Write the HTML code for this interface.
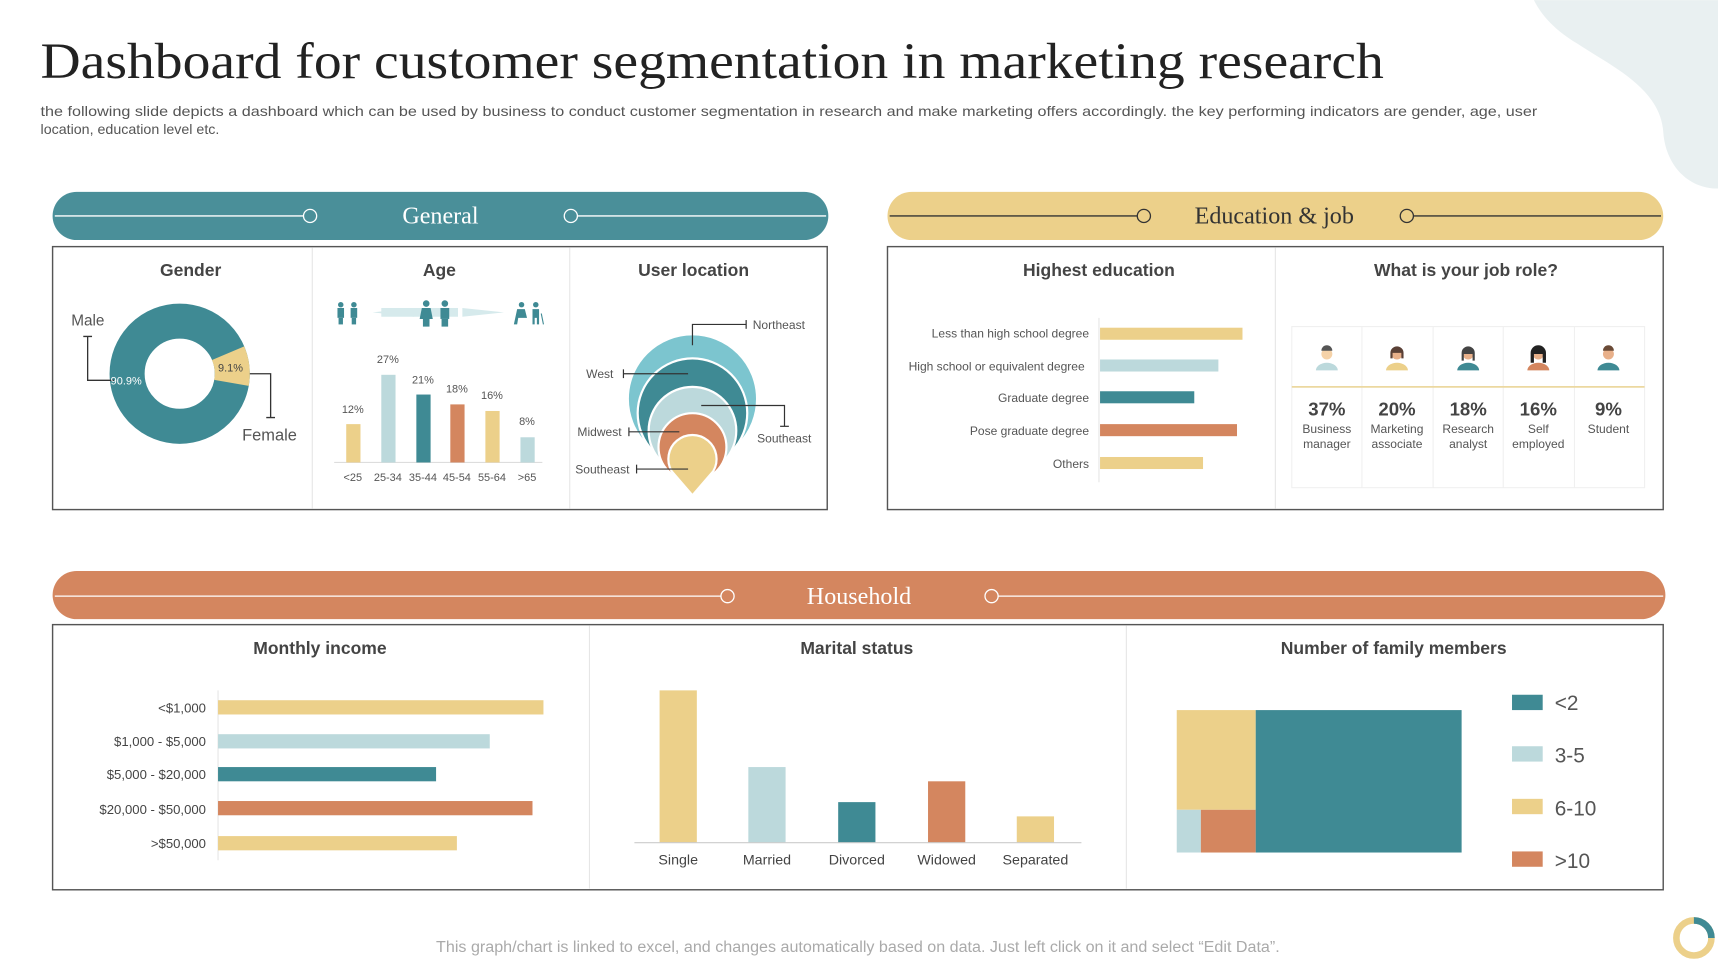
<!DOCTYPE html>
<html><head><meta charset="utf-8"><style>
html,body{margin:0;padding:0;background:#fff;}
svg{display:block;}
text{font-family:"Liberation Sans",sans-serif;}
.s{font-family:"Liberation Serif",serif;}
</style></head><body>
<svg width="1718" height="960" viewBox="0 0 1568 876" xmlns="http://www.w3.org/2000/svg">
<rect width="1568" height="876" fill="#fff"/>
<path d="M1400 0 H1568 V172 C1540 172 1520 150 1518 120 C1515 80 1470 60 1440 40 C1415 25 1405 10 1400 0 Z" fill="#e9f0f1"/>
<text class="s" x="37" y="71" font-size="46" fill="#222" textLength="1226" lengthAdjust="spacingAndGlyphs">Dashboard for customer segmentation in marketing research</text>
<text x="37" y="106" font-size="13" fill="#555" textLength="1366" lengthAdjust="spacingAndGlyphs">the following slide depicts a dashboard which can be used by business to conduct customer segmentation in research and make marketing offers accordingly. the key performing indicators are gender, age, user</text>
<text x="37" y="122" font-size="13" fill="#555">location, education level etc.</text>

<rect x="48" y="175" width="708" height="44" rx="22" fill="#4a8f99"/>
<g stroke="#fff" stroke-width="1.2" fill="#4a8f99"><line x1="50" y1="197" x2="277" y2="197"/><circle cx="283" cy="197" r="6"/><line x1="527" y1="197" x2="754" y2="197"/><circle cx="521" cy="197" r="6"/></g>
<text class="s" x="402" y="204" font-size="22" fill="#fff" text-anchor="middle">General</text>

<rect x="810" y="175" width="708" height="44" rx="22" fill="#ecd08a"/>
<g stroke="#333" stroke-width="1.2" fill="#ecd08a"><line x1="812" y1="197" x2="1038" y2="197"/><circle cx="1044" cy="197" r="6"/><line x1="1290" y1="197" x2="1516" y2="197"/><circle cx="1284" cy="197" r="6"/></g>
<text class="s" x="1163" y="204" font-size="22" fill="#333" text-anchor="middle">Education &amp; job</text>

<rect x="48" y="521" width="1472" height="44" rx="22" fill="#d4865f"/>
<g stroke="#fff" stroke-width="1.2" fill="#d4865f"><line x1="50" y1="544" x2="658" y2="544"/><circle cx="664" cy="544" r="6"/><line x1="911" y1="544" x2="1518" y2="544"/><circle cx="905" cy="544" r="6"/></g>
<text class="s" x="784" y="551" font-size="22" fill="#fff" text-anchor="middle">Household</text>

<g fill="none" stroke="#555" stroke-width="1.3">
<rect x="48" y="225" width="707" height="240"/>
<rect x="810" y="225" width="708" height="240"/>
<rect x="48" y="570" width="1470" height="242"/>
</g>
<g stroke="#e6e6e6" stroke-width="1">
<line x1="285" y1="226" x2="285" y2="464"/><line x1="520" y1="226" x2="520" y2="464"/>
<line x1="1164" y1="226" x2="1164" y2="464"/>
<line x1="538" y1="571" x2="538" y2="811"/><line x1="1028" y1="571" x2="1028" y2="811"/>
</g>

<g font-size="16" font-weight="bold" fill="#444" text-anchor="middle">
<text x="174" y="252">Gender</text><text x="401" y="252">Age</text><text x="633" y="252">User location</text>
<text x="1003" y="252">Highest education</text><text x="1338" y="252">What is your job role?</text>
<text x="292" y="597">Monthly income</text><text x="782" y="597">Marital status</text><text x="1272" y="597">Number of family members</text>
</g>

<circle cx="164" cy="341" r="48" fill="none" stroke="#3f8a94" stroke-width="32"/>
<path d="M222.9 316 A64 64 0 0 1 227.0 352.1 L195.5 346.6 A32 32 0 0 0 193.5 328.5 Z" fill="#ecd08a"/>
<text x="65" y="297" font-size="14" fill="#555">Male</text>
<polyline points="76,307 84,307 80,307 80,347 104,347" fill="none" stroke="#333" stroke-width="1.2"/>
<text x="101" y="351" font-size="10" fill="#fff">90.9%</text>
<text x="199" y="339" font-size="10" fill="#444">9.1%</text>
<polyline points="228,341 247,341 247,381 243,381 251,381" fill="none" stroke="#333" stroke-width="1.2"/>
<text x="221" y="402" font-size="15" fill="#555">Female</text>

<path d="M340 285 L378 281 L378 289 Z M460 285 L422 281 L422 289 Z" fill="#d6eaec"/>
<rect x="348" y="281" width="70" height="8" fill="#d6eaec"/>
<g fill="#3f8a94">
<circle cx="311" cy="278" r="2.5"/><rect x="308" y="281" width="6" height="9"/><rect x="309" y="290" width="4" height="6"/>
<circle cx="323" cy="278" r="2.5"/><rect x="320" y="281" width="6" height="9"/><rect x="321" y="290" width="4" height="6"/>
<circle cx="389" cy="277" r="3"/><path d="M385 281 h8 l2 10 h-12 z"/><rect x="386" y="291" width="6" height="7"/>
<circle cx="406" cy="277" r="3"/><rect x="402" y="281" width="8" height="10"/><rect x="403" y="291" width="6" height="7"/>
<circle cx="476" cy="278" r="2.5"/><path d="M472 282 h7 l2 8 h-8 l-1 6 h-3 z"/>
<circle cx="489" cy="278" r="2.5"/><path d="M486 282 h6 v14 h-2 v-6 h-2 v6 h-2 z"/><line x1="494" y1="286" x2="496" y2="296" stroke="#3f8a94" stroke-width="1"/>
</g>
<line x1="305" y1="422" x2="495" y2="422" stroke="#ddd"/>
<g>
<rect x="316" y="387" width="13" height="35" fill="#ecd08a"/>
<rect x="348" y="342" width="13" height="80" fill="#bcd9dc"/>
<rect x="380" y="360" width="13" height="62" fill="#3f8a94"/>
<rect x="411" y="369" width="13" height="53" fill="#d4865f"/>
<rect x="443" y="375" width="13" height="47" fill="#ecd08a"/>
<rect x="475" y="399" width="13" height="23" fill="#bcd9dc"/>
</g>
<g font-size="10" fill="#555" text-anchor="middle">
<text x="322" y="377">12%</text><text x="354" y="331">27%</text><text x="386" y="350">21%</text><text x="417" y="358">18%</text><text x="449" y="364">16%</text><text x="481" y="388">8%</text>
<text x="322" y="439">&lt;25</text><text x="354" y="439">25-34</text><text x="386" y="439">35-44</text><text x="417" y="439">45-54</text><text x="449" y="439">55-64</text><text x="481" y="439">&gt;65</text>
</g>

<g stroke="#fff" stroke-width="2">
<circle cx="632" cy="364" r="59" fill="#7cc5cf"/>
<circle cx="632" cy="377" r="50" fill="#3f8a94"/>
<circle cx="632" cy="393" r="40" fill="#bcd9dc"/>
<circle cx="632" cy="408" r="31" fill="#d4865f"/>
<path d="M632 452 L613 430 A22 22 0 1 1 651 430 Z" fill="#ecd08a"/>
</g>
<g fill="none" stroke="#333" stroke-width="1.1">
<polyline points="632,315 632,296 681,296"/><line x1="681" y1="292" x2="681" y2="300"/>
<line x1="569" y1="341" x2="628" y2="341"/><line x1="569" y1="337" x2="569" y2="345"/>
<polyline points="640,370 716,370 716,389"/><line x1="712" y1="389" x2="720" y2="389"/>
<line x1="574" y1="394" x2="620" y2="394"/><line x1="574" y1="390" x2="574" y2="398"/>
<line x1="581" y1="428" x2="628" y2="428"/><line x1="581" y1="424" x2="581" y2="432"/>
</g>
<g font-size="11" fill="#555">
<text x="687" y="300">Northeast</text><text x="535" y="345">West</text><text x="691" y="404">Southeast</text>
<text x="527" y="398">Midwest</text><text x="525" y="432">Southeast</text>
</g>

<line x1="1003" y1="290" x2="1003" y2="440" stroke="#e6e6e6"/>
<g font-size="11" fill="#555" text-anchor="end">
<text x="994" y="308">Less than high school degree</text><text x="990" y="338">High school or equivalent degree</text>
<text x="994" y="367">Graduate degree</text><text x="994" y="397">Pose graduate degree</text><text x="994" y="427">Others</text>
</g>
<rect x="1004" y="299" width="130" height="11" fill="#ecd08a"/>
<rect x="1004" y="328" width="108" height="11" fill="#bcd9dc"/>
<rect x="1004" y="357" width="86" height="11" fill="#3f8a94"/>
<rect x="1004" y="387" width="125" height="11" fill="#d4865f"/>
<rect x="1004" y="417" width="94" height="11" fill="#ecd08a"/>

<rect x="1179" y="298" width="322" height="147" fill="none" stroke="#f0f0f0"/>
<g stroke="#f0f0f0"><line x1="1243" y1="298" x2="1243" y2="445"/><line x1="1308" y1="298" x2="1308" y2="445"/><line x1="1372" y1="298" x2="1372" y2="445"/><line x1="1437" y1="298" x2="1437" y2="445"/></g>
<line x1="1179" y1="353" x2="1501" y2="353" stroke="#ecd8a0" stroke-width="1.5"/>
<g>
<circle cx="1211" cy="323" r="5" fill="#f5d2a8"/><path d="M1206 320 a5 5 0 0 1 10 0 z" fill="#555"/><path d="M1201 338 a10 7 0 0 1 20 0 z" fill="#bcd9dc"/>
<circle cx="1275" cy="323" r="5" fill="#e8b08a"/><path d="M1269 327 v-5 a6 6 0 0 1 12 0 v5 h-2 v-5 h-8 v5 z" fill="#5a4036"/><path d="M1265 338 a10 7 0 0 1 20 0 z" fill="#ecd08a"/>
<circle cx="1340" cy="323" r="5" fill="#e8b08a"/><path d="M1334 329 v-7 a6 6 0 0 1 12 0 v7 h-2 v-6 h-8 v6 z" fill="#444"/><path d="M1330 338 a10 7 0 0 1 20 0 z" fill="#3f8a94"/>
<circle cx="1404" cy="323" r="5" fill="#e8b08a"/><path d="M1397 331 v-9 a7 7 0 0 1 14 0 v9 h-3 v-8 h-8 v8 z" fill="#222"/><path d="M1394 338 a10 7 0 0 1 20 0 z" fill="#d4865f"/>
<circle cx="1468" cy="323" r="5" fill="#e8b08a"/><path d="M1463 320 a5 5 0 0 1 10 0 z" fill="#6a4a36"/><path d="M1458 338 a10 7 0 0 1 20 0 z" fill="#3f8a94"/>
</g>
<g font-size="17" font-weight="bold" fill="#444" text-anchor="middle">
<text x="1211" y="379">37%</text><text x="1275" y="379">20%</text><text x="1340" y="379">18%</text><text x="1404" y="379">16%</text><text x="1468" y="379">9%</text>
</g>
<g font-size="11" fill="#555" text-anchor="middle">
<text x="1211" y="395">Business</text><text x="1211" y="409">manager</text>
<text x="1275" y="395">Marketing</text><text x="1275" y="409">associate</text>
<text x="1340" y="395">Research</text><text x="1340" y="409">analyst</text>
<text x="1404" y="395">Self</text><text x="1404" y="409">employed</text>
<text x="1468" y="395">Student</text>
</g>

<line x1="199" y1="630" x2="199" y2="785" stroke="#e6e6e6"/>
<g font-size="12" fill="#444" text-anchor="end">
<text x="188" y="650">&lt;$1,000</text><text x="188" y="681">$1,000 - $5,000</text><text x="188" y="711">$5,000 - $20,000</text><text x="188" y="743">$20,000 - $50,000</text><text x="188" y="774">&gt;$50,000</text>
</g>
<rect x="199" y="639" width="297" height="13" fill="#ecd08a"/>
<rect x="199" y="670" width="248" height="13" fill="#bcd9dc"/>
<rect x="199" y="700" width="199" height="13" fill="#3f8a94"/>
<rect x="199" y="731" width="287" height="13" fill="#d4865f"/>
<rect x="199" y="763" width="218" height="13" fill="#ecd08a"/>

<rect x="602" y="630" width="34" height="139" fill="#ecd08a"/>
<rect x="683" y="700" width="34" height="69" fill="#bcd9dc"/>
<rect x="765" y="732" width="34" height="37" fill="#3f8a94"/>
<rect x="847" y="713" width="34" height="56" fill="#d4865f"/>
<rect x="928" y="745" width="34" height="24" fill="#ecd08a"/>
<line x1="579" y1="769" x2="987" y2="769" stroke="#ccc"/>
<g font-size="13" fill="#444" text-anchor="middle">
<text x="619" y="789">Single</text><text x="700" y="789">Married</text><text x="782" y="789">Divorced</text><text x="864" y="789">Widowed</text><text x="945" y="789">Separated</text>
</g>

<rect x="1146" y="648" width="188" height="130" fill="#3f8a94"/>
<rect x="1074" y="648" width="72" height="91" fill="#ecd08a"/>
<rect x="1074" y="739" width="22" height="39" fill="#bcd9dc"/>
<rect x="1096" y="739" width="50" height="39" fill="#d4865f"/>
<rect x="1380" y="634" width="28" height="14" fill="#3f8a94"/>
<rect x="1380" y="681" width="28" height="14" fill="#bcd9dc"/>
<rect x="1380" y="729" width="28" height="14" fill="#ecd08a"/>
<rect x="1380" y="777" width="28" height="14" fill="#d4865f"/>
<g font-size="19" fill="#555">
<text x="1419" y="648">&lt;2</text><text x="1419" y="696">3-5</text><text x="1419" y="744">6-10</text><text x="1419" y="792">&gt;10</text>
</g>

<text x="398" y="869" font-size="14" fill="#aaa" textLength="770" lengthAdjust="spacingAndGlyphs">This graph/chart is linked to excel, and changes automatically based on data. Just left click on it and select “Edit Data”.</text>
<circle cx="1546" cy="856" r="16" fill="none" stroke="#ecd08a" stroke-width="6"/>
<path d="M1546 840 A16 16 0 0 1 1562 856" fill="none" stroke="#3f8a94" stroke-width="6"/>
</svg>
</body></html>
